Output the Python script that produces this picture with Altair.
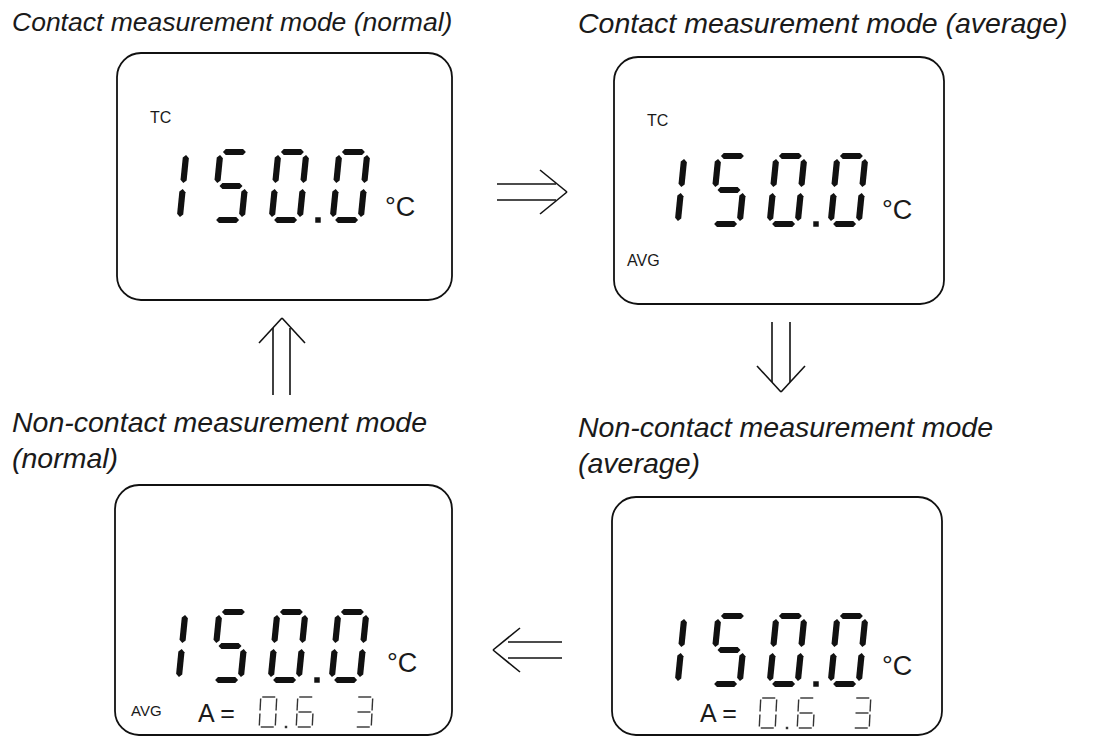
import altair as alt
import pandas as pd

# ---------------- data (image pixel coordinates) ----------------
box_left = [117, 614, 115, 612]
box_right = [452, 944, 452, 942]
box_top = [53, 57, 485, 497]
box_bottom = [300, 304, 735, 735]

title_text = ["Contact measurement mode (normal)", "Contact measurement mode (average)",
              "Non-contact measurement mode", "(normal)",
              "Non-contact measurement mode", "(average)"]
title_x = [12, 578, 12, 12, 578, 578]
title_y = [31, 33, 432, 468, 437, 473]
title_size = [26.5, 28.5, 28.5, 28.5, 28.5, 28.5]

label_text = ["TC", "°C", "TC", "°C", "AVG", "°C", "AVG", "A =", "°C", "A ="]
label_x = [150, 385, 647, 882, 627, 387, 131, 198, 882, 700]
label_y = [118, 208, 121, 211, 261, 664, 711, 714, 667, 714]
label_size = [16, 27, 16, 27, 16, 27, 15, 25, 27, 25]

big_value = ["150.0", "150.0", "150.0", "150.0"]
big_origin_x = [169, 667, 168, 667]
big_cy = [186, 190, 646, 650]
big_digit_dx = [0, 62, 120, 181]
big_point_dx = 149

small_value = ["0.63", "0.63"]
small_centers = [[268, 305, 364], [768, 806, 862]]
small_cy = [712, 713]
small_point_x = [286, 787]

arrow_x1 = [497, 497, 540, 567, 772, 790, 757, 781, 273, 290, 259, 282, 508, 508, 493, 493]
arrow_y1 = [184, 200, 170, 192, 322, 322, 366, 392, 395, 395, 343, 318, 642, 658, 650, 650]
arrow_x2 = [556, 556, 567, 540, 772, 790, 781, 805, 273, 290, 282, 305, 562, 562, 520, 520]
arrow_y2 = [184, 200, 192, 214, 382, 382, 392, 366, 328, 328, 318, 343, 642, 658, 628, 672]

SEG = {"0": "abcdef", "1": "bc", "3": "abcdg", "5": "acdfg", "6": "acdefg"}


def seg_centers(cx, cy, w, h, k):
    return {
        "a": (cx + k * h, cy - h, "h"),
        "g": (cx, cy, "h"),
        "d": (cx - k * h, cy + h, "h"),
        "f": (cx - w + k * h / 2, cy - h / 2, "v"),
        "b": (cx + w + k * h / 2, cy - h / 2, "v"),
        "e": (cx - w - k * h / 2, cy + h / 2, "v"),
        "c": (cx + w - k * h / 2, cy + h / 2, "v"),
    }


# big filled seven-segment digits
BW, BH, BK = 14, 34, 0.1
big_rows, big_dots = [], []
for i, val in enumerate(big_value):
    digits = val.replace(".", "")
    for j, ch in enumerate(digits):
        cx = big_origin_x[i] + big_digit_dx[j]
        geo = seg_centers(cx, big_cy[i], BW, BH, BK)
        for s in SEG[ch]:
            x, y, o = geo[s]
            big_rows.append({"x": x, "y": y, "o": o})
    big_dots.append({"x": big_origin_x[i] + big_point_dx, "y": big_cy[i] + BH})
big_df = pd.DataFrame(big_rows)
big_h = big_df[big_df.o == "h"].assign(ang=0, sz=23 ** 2)
big_v = big_df[big_df.o == "v"].assign(ang=95.7, sz=28 ** 2)
dots_df = pd.DataFrame(big_dots)

# small outlined seven-segment digits
SW, SH, SK = 8, 15, 0.05
LH, LV = 13, 12
small_rows, small_dots = [], []
for i, val in enumerate(small_value):
    digits = val.replace(".", "")
    for j, ch in enumerate(digits):
        geo = seg_centers(small_centers[i][j], small_cy[i], SW, SH, SK)
        for s in SEG[ch]:
            x, y, o = geo[s]
            if o == "h":
                small_rows.append({"x": x - LH / 2, "y": y, "x2": x + LH / 2, "y2": y})
            else:
                small_rows.append({"x": x + SK * LV / 2, "y": y - LV / 2,
                                   "x2": x - SK * LV / 2, "y2": y + LV / 2})
    small_dots.append({"x": small_point_x[i], "y": small_cy[i] + SH})
small_df = pd.DataFrame(small_rows)
sdots_df = pd.DataFrame(small_dots)

boxes = pd.DataFrame({"x": box_left, "x2": box_right, "y": box_top, "y2": box_bottom})
titles = pd.DataFrame({"t": title_text, "x": title_x, "y": title_y, "fs": title_size})
labels = pd.DataFrame({"t": label_text, "x": label_x, "y": label_y, "fs": label_size})
arrows = pd.DataFrame({"x": arrow_x1, "y": arrow_y1, "x2": arrow_x2, "y2": arrow_y2})

# ---------------- scales ----------------
XS = alt.Scale(domain=[8, 1093], nice=False, zero=False)
YS = alt.Scale(domain=[737, 8], nice=False, zero=False)


def X(f="x"):
    return alt.X(f + ":Q", scale=XS, axis=None)


def Y(f="y"):
    return alt.Y(f + ":Q", scale=YS, axis=None)


INK = "#111111"

box_layer = alt.Chart(boxes).mark_rect(
    fillOpacity=0, stroke=INK, strokeWidth=1.8, cornerRadius=24
).encode(x=X(), x2="x2:Q", y=Y(), y2="y2:Q")

title_layer = alt.Chart(titles).mark_text(
    align="left", baseline="alphabetic", font="Liberation Sans", fontStyle="italic",
    color="#1a1a1a"
).encode(x=X(), y=Y(), text="t:N", size=alt.Size("fs:Q", scale=None))

label_layer = alt.Chart(labels).mark_text(
    align="left", baseline="middle", font="Liberation Sans", color="#1a1a1a"
).encode(x=X(), y=Y(), text="t:N", size=alt.Size("fs:Q", scale=None))

HPATH = "M-1,0L-0.75,-0.27L0.75,-0.27L1,0L0.75,0.27L-0.75,0.27Z"
VPATH = "M-1,0L-0.8,-0.22L0.8,-0.22L1,0L0.8,0.22L-0.8,0.22Z"

seg_h_layer = alt.Chart(big_h).mark_point(
    shape=HPATH, filled=True, color=INK, opacity=1, strokeWidth=0
).encode(x=X(), y=Y(), angle=alt.Angle("ang:Q", scale=None), size=alt.Size("sz:Q", scale=None))

seg_v_layer = alt.Chart(big_v).mark_point(
    shape=VPATH, filled=True, color=INK, opacity=1, strokeWidth=0
).encode(x=X(), y=Y(), angle=alt.Angle("ang:Q", scale=None), size=alt.Size("sz:Q", scale=None))

dot_layer = alt.Chart(dots_df).mark_point(
    shape="square", filled=True, color=INK, opacity=1, size=30
).encode(x=X(), y=Y())

small_layer = alt.Chart(small_df).mark_rule(
    color="#333333", strokeWidth=1.4
).encode(x=X(), y=Y(), x2="x2:Q", y2="y2:Q")

sdot_layer = alt.Chart(sdots_df).mark_point(
    shape="square", filled=True, color="#333333", opacity=1, size=6
).encode(x=X(), y=Y())

arrow_layer = alt.Chart(arrows).mark_rule(
    color=INK, strokeWidth=1.6
).encode(x=X(), y=Y(), x2="x2:Q", y2="y2:Q")

chart = alt.layer(
    box_layer, title_layer, label_layer, seg_h_layer, seg_v_layer, dot_layer,
    small_layer, sdot_layer, arrow_layer
).properties(
    width=1085, height=729, padding=0, autosize=alt.AutoSizeParams(type="none"),
    background="white"
).configure_view(stroke=None)

chart.save("out.html", embed_options={"renderer": "svg", "actions": False})
